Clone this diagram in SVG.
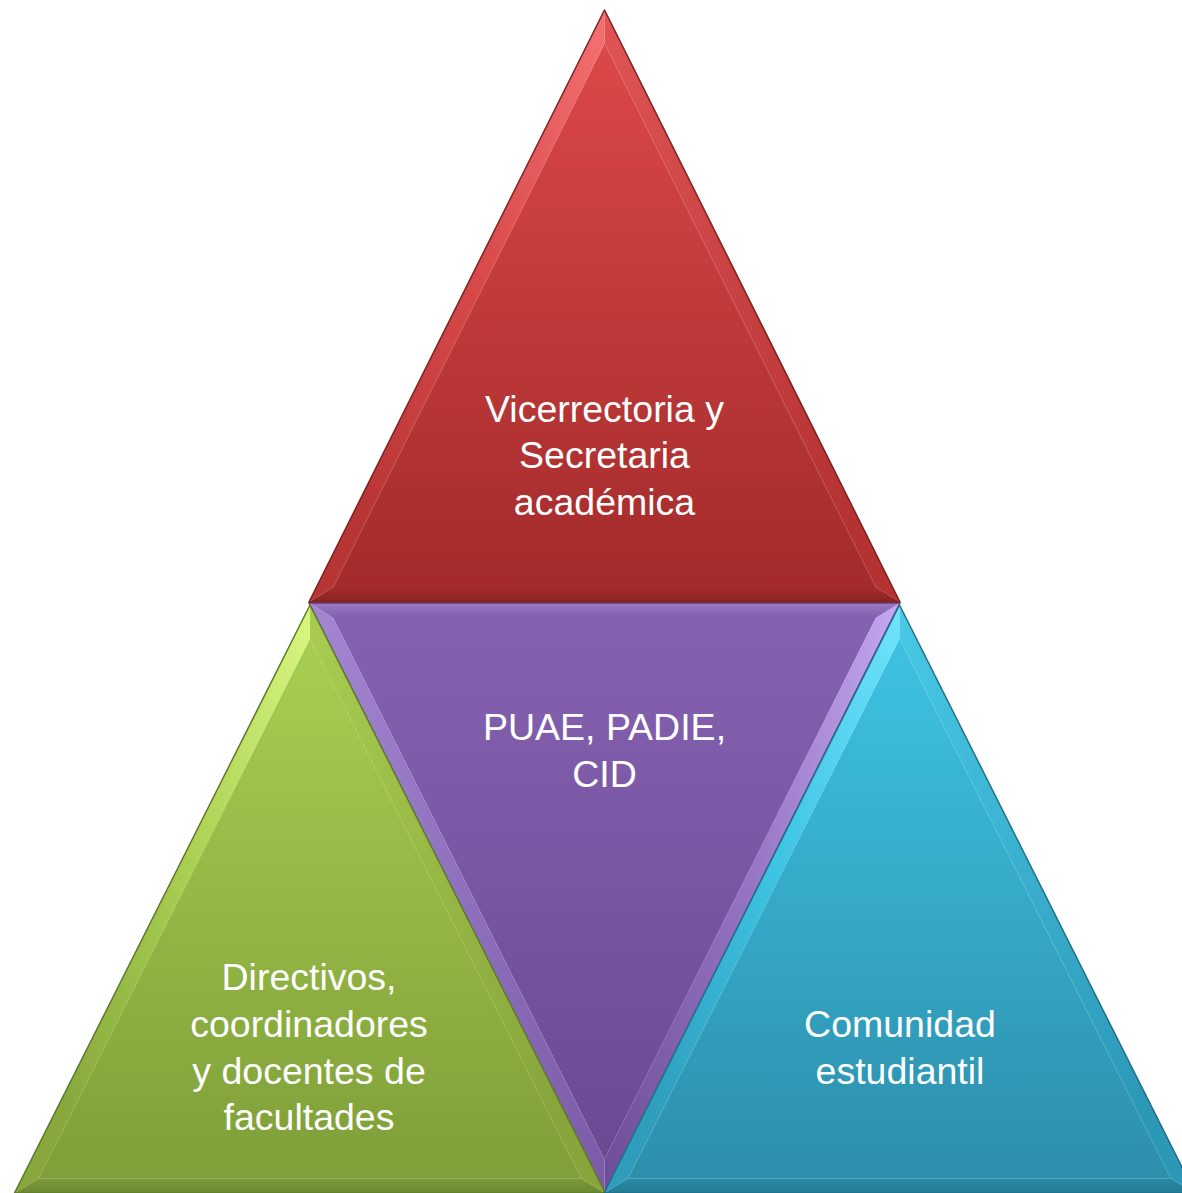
<svg xmlns="http://www.w3.org/2000/svg" width="1182" height="1193" viewBox="0 0 1182 1193">
<style>
.lbl{font-family:"Liberation Sans",Arial,sans-serif;font-size:37.5px;fill:#ffffff;text-anchor:middle}
.edge{fill:none;stroke-width:1.5;stroke-linejoin:round}
</style>
<defs>
<linearGradient id="redMain" x1="0" y1="0" x2="0" y2="1"><stop offset="0" stop-color="#dc4848"/><stop offset="1" stop-color="#a32b2b"/></linearGradient>
<linearGradient id="redL" x1="1" y1="0" x2="0" y2="0.3"><stop offset="0" stop-color="#f47070"/><stop offset="0.5" stop-color="#d94a4a"/><stop offset="1" stop-color="#b83535"/></linearGradient>
<linearGradient id="redR" x1="0" y1="0" x2="1" y2="0.3"><stop offset="0" stop-color="#e05454"/><stop offset="1" stop-color="#b43232"/></linearGradient>
<linearGradient id="redB" x1="0" y1="0" x2="0" y2="1"><stop offset="0" stop-color="#a52d2d"/><stop offset="1" stop-color="#8c2222"/></linearGradient>

<linearGradient id="grnMain" x1="0" y1="0" x2="0" y2="1"><stop offset="0" stop-color="#a8ce50"/><stop offset="1" stop-color="#7e9f39"/></linearGradient>
<linearGradient id="grnL" x1="1" y1="0" x2="0" y2="0.3"><stop offset="0" stop-color="#d8f680"/><stop offset="0.5" stop-color="#a9cf52"/><stop offset="1" stop-color="#86a83c"/></linearGradient>
<linearGradient id="grnR" x1="0" y1="0" x2="1" y2="0.3"><stop offset="0" stop-color="#a8cc50"/><stop offset="1" stop-color="#86a63c"/></linearGradient>
<linearGradient id="grnB" x1="0" y1="0" x2="0" y2="1"><stop offset="0" stop-color="#7c9c38"/><stop offset="1" stop-color="#6a882e"/></linearGradient>

<linearGradient id="cyMain" x1="0" y1="0" x2="0" y2="1"><stop offset="0" stop-color="#3ec2e2"/><stop offset="1" stop-color="#2c8fac"/></linearGradient>
<linearGradient id="cyL" x1="1" y1="0" x2="0" y2="0.3"><stop offset="0" stop-color="#6ee2fb"/><stop offset="0.5" stop-color="#3ec4e4"/><stop offset="1" stop-color="#2f9ebd"/></linearGradient>
<linearGradient id="cyR" x1="0" y1="0" x2="1" y2="0.3"><stop offset="0" stop-color="#48c8e6"/><stop offset="1" stop-color="#2c98b6"/></linearGradient>
<linearGradient id="cyB" x1="0" y1="0" x2="0" y2="1"><stop offset="0" stop-color="#2a8ba8"/><stop offset="1" stop-color="#247a94"/></linearGradient>

<linearGradient id="puMain" x1="0" y1="0" x2="0" y2="1"><stop offset="0" stop-color="#8462b2"/><stop offset="1" stop-color="#6b4a92"/></linearGradient>
<linearGradient id="puT" x1="0" y1="0" x2="0" y2="1"><stop offset="0" stop-color="#9a7ac6"/><stop offset="1" stop-color="#8060ad"/></linearGradient>
<linearGradient id="puL" x1="0" y1="0" x2="1" y2="0"><stop offset="0" stop-color="#a486d2"/><stop offset="1" stop-color="#7c5ca8"/></linearGradient>
<linearGradient id="puR" x1="1" y1="0" x2="0" y2="0"><stop offset="0" stop-color="#c4a8f0"/><stop offset="0.5" stop-color="#9676c4"/><stop offset="1" stop-color="#6e4e98"/></linearGradient>
</defs>

<g id="node-puae">
  <g transform="translate(604.5,603)">
    <polygon points="-271.3,15 271.3,15 0,556.5" fill="url(#puMain)"/>
    <polygon points="-295.5,0 295.5,0 271.3,15 -271.3,15" fill="url(#puT)"/>
    <polygon points="-295.5,0 0,590 0,556.5 -271.3,15" fill="url(#puL)"/>
    <polygon points="295.5,0 0,590 0,556.5 271.3,15" fill="url(#puR)"/>
    <polygon class="edge" points="-295.5,0 295.5,0 0,590" stroke="#5a3d7c"/>
  </g>
  <text class="lbl" x="604.5" y="740">PUAE, PADIE,</text>
  <text class="lbl" x="604.5" y="787">CID</text>
</g>

<g id="node-vicerrectoria">
  <g transform="translate(604.5,10)">
    <polygon points="0,33.6 -271.3,577 271.3,577" fill="url(#redMain)"/>
    <polygon points="0,0 -295.5,592 -271.3,577 0,33.6" fill="url(#redL)"/>
    <polygon points="0,0 295.5,592 271.3,577 0,33.6" fill="url(#redR)"/>
    <polygon points="-295.5,592 295.5,592 271.3,577 -271.3,577" fill="url(#redB)"/>
    <polygon class="edge" points="0,0 -295.5,592 295.5,592" stroke="#7a2222"/>
  </g>
  <text class="lbl" x="604.5" y="422">Vicerrectoria y</text>
  <text class="lbl" x="604.5" y="468">Secretaria</text>
  <text class="lbl" x="604.5" y="515">académica</text>
</g>

<g id="node-directivos">
  <g transform="translate(310,605) scale(1,0.9935)">
    <polygon points="0,33.6 -271.3,577 271.3,577" fill="url(#grnMain)"/>
    <polygon points="0,0 -295.5,592 -271.3,577 0,33.6" fill="url(#grnL)"/>
    <polygon points="0,0 295.5,592 271.3,577 0,33.6" fill="url(#grnR)"/>
    <polygon points="-295.5,592 295.5,592 271.3,577 -271.3,577" fill="url(#grnB)"/>
    <polygon class="edge" points="0,0 -295.5,592 295.5,592" stroke="#5e7a2a"/>
  </g>
  <text class="lbl" x="309" y="990">Directivos,</text>
  <text class="lbl" x="309" y="1037">coordinadores</text>
  <text class="lbl" x="309" y="1084">y docentes de</text>
  <text class="lbl" x="309" y="1130">facultades</text>
</g>

<g id="node-comunidad">
  <g transform="translate(899.5,605) scale(1,0.9935)">
    <polygon points="0,33.6 -271.3,577 271.3,577" fill="url(#cyMain)"/>
    <polygon points="0,0 -295.5,592 -271.3,577 0,33.6" fill="url(#cyL)"/>
    <polygon points="0,0 295.5,592 271.3,577 0,33.6" fill="url(#cyR)"/>
    <polygon points="-295.5,592 295.5,592 271.3,577 -271.3,577" fill="url(#cyB)"/>
    <polygon class="edge" points="0,0 -295.5,592 295.5,592" stroke="#226f88"/>
  </g>
  <text class="lbl" x="900" y="1037">Comunidad</text>
  <text class="lbl" x="900" y="1084">estudiantil</text>
</g>

<g id="connectors"></g>
</svg>
